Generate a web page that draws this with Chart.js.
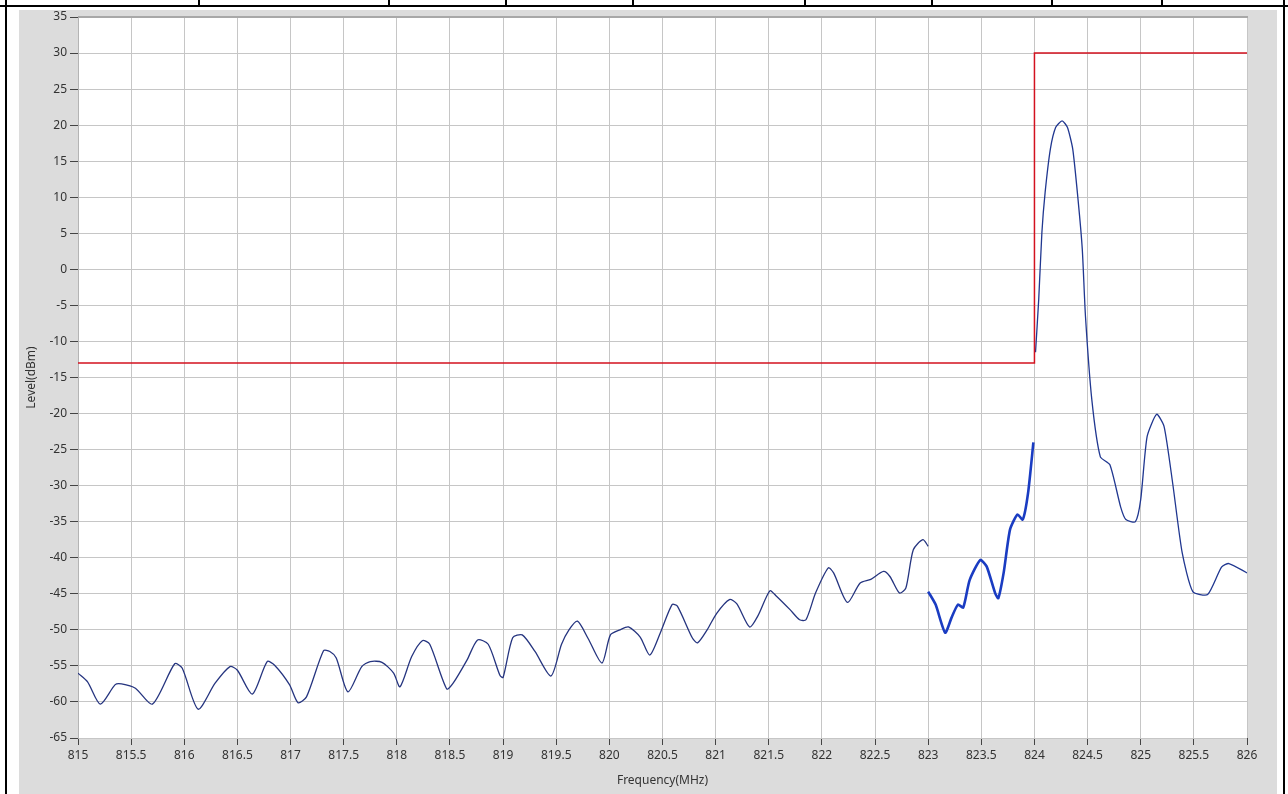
<!DOCTYPE html>
<html>
<head>
<meta charset="utf-8">
<script src="https://cdn.jsdelivr.net/npm/chart.js@4.4.1/dist/chart.umd.min.js"></script>
<style>
  html, body { margin: 0; padding: 0; background: #ffffff; }
  #wrap { width: 1288px; height: 794px; position: relative; }
</style>
</head>
<body>
<div id="wrap"><canvas id="c" width="1288" height="794"></canvas></div>
<script>
// ---- Data ----
const xTickLabels = ['815','815.5','816','816.5','817','817.5','818','818.5','819','819.5','820','820.5','821','821.5','822','822.5','823','823.5','824','824.5','825','825.5','826'];
const yTickLabels = ['35','30','25','20','15','10','5','0','-5','-10','-15','-20','-25','-30','-35','-40','-45','-50','-55','-60','-65'];

// Trace segment 1: 815 - 823 MHz
const freq1 = [815.00, 815.09, 815.21, 815.35, 815.41, 815.54, 815.70, 815.91, 815.98, 816.13,
               816.29, 816.43, 816.50, 816.64, 816.78, 816.85, 816.99, 817.07, 817.15, 817.31,
               817.37, 817.43, 817.54, 817.67, 817.75, 817.86, 817.97, 818.03, 818.14, 818.24,
               818.31, 818.47, 818.53, 818.66, 818.76, 818.86, 818.97, 819.00, 819.09, 819.18,
               819.30, 819.45, 819.55, 819.62, 819.70, 819.80, 819.93, 820.01, 820.10, 820.18,
               820.29, 820.38, 820.48, 820.59, 820.64, 820.78, 820.83, 820.92, 821.01, 821.13,
               821.20, 821.32, 821.40, 821.51, 821.57, 821.70, 821.79, 821.85, 821.94, 822.06,
               822.11, 822.24, 822.36, 822.46, 822.58, 822.64, 822.73, 822.79, 822.86, 822.95, 823.00];
const level1 = [-56.0, -57.2, -60.3, -57.6, -57.5, -58.1, -60.3, -54.7, -55.3, -61.0,
                -57.4, -55.1, -55.6, -58.9, -54.4, -54.9, -57.6, -60.1, -59.3, -52.9,
                -53.0, -53.9, -58.6, -55.1, -54.4, -54.5, -56.0, -57.9, -53.7, -51.5,
                -52.0, -58.2, -57.4, -54.2, -51.4, -52.0, -56.3, -56.6, -51.1, -50.7,
                -53.0, -56.4, -52.0, -50.0, -48.8, -51.2, -54.6, -50.7, -50.0, -49.6,
                -51.0, -53.5, -50.4, -46.5, -46.7, -51.1, -51.8, -50.0, -47.7, -45.8,
                -46.4, -49.6, -48.0, -44.6, -45.3, -47.2, -48.6, -48.6, -44.9, -41.4,
                -42.1, -46.2, -43.5, -43.0, -41.9, -42.6, -44.9, -44.2, -38.9, -37.5, -38.4];

// Trace segment 2: 823 - 824 MHz
const freq2 = [823.00, 823.07, 823.16, 823.22, 823.28, 823.33, 823.39, 823.49, 823.55, 823.63,
               823.66, 823.71, 823.77, 823.84, 823.89, 823.94, 823.99];
const level2 = [-44.7, -46.5, -50.4, -48.3, -46.5, -46.9, -43.1, -40.3, -41.2, -44.9,
                -45.6, -42.1, -36.1, -34.0, -34.7, -31.0, -24.0];

// Trace segment 3: 824 - 826 MHz
const freq3 = [824.01, 824.04, 824.07, 824.10, 824.15, 824.20, 824.26, 824.31, 824.36, 824.41,
               824.45, 824.48, 824.54, 824.62, 824.71, 824.81, 824.86, 824.95, 825.00, 825.06,
               825.15, 825.22, 825.30, 825.39, 825.49, 825.63, 825.76, 825.83, 826.00];
const level3 = [-11.5, -4.2, 5.1, 10.6, 16.7, 19.7, 20.6, 19.7, 16.7, 9.7,
                2.8, -6.5, -18.1, -26.0, -27.1, -32.9, -34.7, -35.0, -31.9, -23.2,
                -20.1, -21.8, -29.6, -39.3, -44.7, -45.1, -41.3, -40.8, -42.1];

// Limit line
const limitFreq = [815, 824, 824, 826];
const limitLevel = [-13, -13, 30, 30];

// ---- Build ----
const toPts = (xs, ys) => xs.map((x, i) => ({ x: x, y: ys[i] }));

const PLOT = { left: 78, right: 1247, top: 17, bottom: 738 };

const framePlugin = {
  id: 'frame',
  beforeDraw(chart) {
    const ctx = chart.ctx;
    const ca = chart.chartArea;
    ctx.save();
    ctx.fillStyle = '#ffffff';
    ctx.fillRect(0, 0, 1288, 794);
    ctx.fillStyle = '#dcdcdc';
    ctx.fillRect(19, 10, 1277 - 19, 794 - 10);
    ctx.fillStyle = '#ffffff';
    ctx.fillRect(ca.left, ca.top, ca.right - ca.left, ca.bottom - ca.top);
    ctx.restore();
  },
  afterDraw(chart) {
    const ctx = chart.ctx;
    const ca = chart.chartArea;
    ctx.save();
    ctx.fillStyle = '#a8a8a8';
    ctx.fillRect(ca.left, ca.top - 1, ca.right - ca.left + 1, 2);
    ctx.fillStyle = '#000000';
    ctx.fillRect(0, 5, 1288, 2);
    ctx.fillRect(5, 0, 2, 794);
    ctx.fillRect(1283, 0, 2, 794);
    [198, 388, 505, 632, 804, 931, 1051, 1161].forEach(x => ctx.fillRect(x, 0, 2, 6));
    ctx.restore();
  }
};

const font = { family: "'Noto Sans', 'DejaVu Sans', sans-serif", size: 12 };

new Chart(document.getElementById('c'), {
  type: 'scatter',
  data: {
    datasets: [
      { label: 'limit', data: toPts(limitFreq, limitLevel), showLine: true, borderColor: '#d3121f', borderWidth: 1.5, pointRadius: 0, tension: 0 },
      { label: 'trace1', data: toPts(freq1, level1), showLine: true, borderColor: '#25347f', borderWidth: 1.3, pointRadius: 0, tension: 0.25 },
      { label: 'trace2', data: toPts(freq2, level2), showLine: true, borderColor: '#1a3cc2', borderWidth: 2.6, pointRadius: 0, tension: 0.2 },
      { label: 'trace3', data: toPts(freq3, level3), showLine: true, borderColor: '#203790', borderWidth: 1.3, pointRadius: 0, tension: 0.2 }
    ]
  },
  options: {
    responsive: false,
    animation: false,
    devicePixelRatio: 1,
    layout: { padding: { left: 20, top: PLOT.top, right: 1288 - PLOT.right, bottom: 0 } },
    plugins: { legend: { display: false }, tooltip: { enabled: false } },
    scales: {
      x: {
        type: 'linear',
        min: 815, max: 826,
        afterFit(scale) { scale.height = 794 - PLOT.bottom; },
        afterBuildTicks(scale) {
          scale.ticks = xTickLabels.map(v => ({ value: parseFloat(v) }));
        },
        ticks: {
          autoSkip: false, maxRotation: 0, padding: 3, color: '#333333', font: font,
          callback: (v, i) => xTickLabels[i]
        },
        grid: { color: '#c6c6c6', lineWidth: 1, tickLength: 7, tickColor: '#444444', drawTicks: true },
        border: { display: false },
        title: { display: true, text: 'Frequency(MHz)', color: '#333333', font: font, padding: { top: 0, bottom: 6 } }
      },
      y: {
        type: 'linear',
        min: -65, max: 35,
        afterFit(scale) { scale.width = PLOT.left - 20; },
        afterBuildTicks(scale) {
          scale.ticks = yTickLabels.map(v => ({ value: parseFloat(v) }));
        },
        ticks: {
          autoSkip: false, padding: 3, color: '#333333', font: font,
          callback: function (v) { return yTickLabels.find(t => parseFloat(t) === v); }
        },
        grid: { color: '#c6c6c6', lineWidth: 1, tickLength: 8, tickColor: '#444444', drawTicks: true },
        border: { display: true, color: '#b4b4b4' },
        title: { display: true, text: 'Level(dBm)', color: '#333333', font: font, padding: { top: 4, bottom: 0 } }
      }
    }
  },
  plugins: [framePlugin]
});
</script>
</body>
</html>
